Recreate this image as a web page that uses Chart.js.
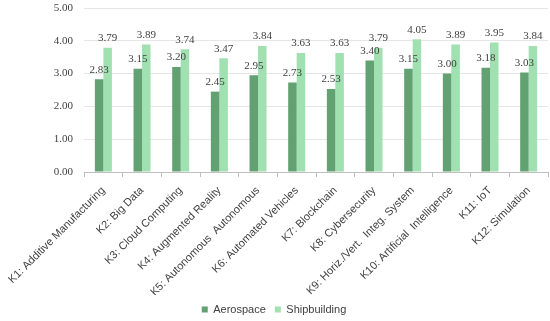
<!DOCTYPE html>
<html>
<head>
<meta charset="utf-8">
<script src="https://cdn.jsdelivr.net/npm/chart.js@4"></script>
<style>
html,body{margin:0;padding:0;background:#fff;}
#wrap{width:550px;height:321px;position:relative;}
</style>
</head>
<body>
<div id="wrap"><canvas id="c" width="550" height="321"></canvas></div>
<script>
const categories = ["K1: Additive Manufacturing","K2: Big Data","K3: Cloud Computing","K4: Augmented Reality","K5: Autonomous  Autonomous","K6: Automated Vehicles","K7: Blockchain","K8: Cybersecurity","K9: Horiz./Vert.  Integ. System","K10: Artificial  Intelligence","K11: IoT","K12: Simulation"];
const aerospace = [2.83,3.15,3.20,2.45,2.95,2.73,2.53,3.40,3.15,3.00,3.18,3.03];
const shipbuilding = [3.79,3.89,3.74,3.47,3.84,3.63,3.63,3.79,4.05,3.89,3.95,3.84];
const seriesNames = ["Aerospace","Shipbuilding"];
const yTicks = [0,1,2,3,4,5];

const labelPlugin = {
  id:'barLabels',
  afterDatasetsDraw(chart){
    const ctx = chart.ctx;
    ctx.save();
    ctx.font = '11px "Liberation Serif", "Times New Roman", serif';
    ctx.fillStyle = '#404040';
    ctx.textAlign = 'center';
    ctx.textBaseline = 'bottom';
    chart.data.datasets.forEach((ds,i)=>{
      const meta = chart.getDatasetMeta(i);
      meta.data.forEach((bar,j)=>{
        ctx.fillText(ds.data[j].toFixed(2), bar.x, bar.y - 4);
      });
    });
    ctx.restore();
  }
};

new Chart(document.getElementById('c'),{
  type:'bar',
  data:{
    labels:categories,
    datasets:[
      {label:seriesNames[0],data:aerospace,backgroundColor:'#62a172',barPercentage:1.0,categoryPercentage:0.44},
      {label:seriesNames[1],data:shipbuilding,backgroundColor:'#a0e0b1',barPercentage:1.0,categoryPercentage:0.44}
    ]
  },
  options:{
    responsive:false,
    animation:false,
    devicePixelRatio:1,
    layout:{padding:{left:0,right:2,top:0,bottom:-4}},
    plugins:{
      legend:{
        position:'bottom',
        labels:{boxWidth:6,boxHeight:6,padding:9,color:'#404040',font:{family:'"Liberation Sans", Arial, sans-serif',size:11}}
      },
      tooltip:{enabled:false}
    },
    scales:{
      x:{
        afterFit(axis){axis.height = 123;},
        grid:{display:true,drawOnChartArea:false,offset:true,color:'#bfbfbf',tickLength:5},
        border:{display:true,color:'#bfbfbf'},
        ticks:{minRotation:45,maxRotation:45,autoSkip:false,color:'#404040',padding:7,font:{family:'"Liberation Sans", Arial, sans-serif',size:11}}
      },
      y:{
        min:0,max:5,
        afterBuildTicks(axis){axis.ticks = yTicks.map(v=>({value:v}));},
        afterFit(axis){axis.width = 82; axis.paddingTop = 8; axis.paddingBottom = 0;},
        grid:{color:'#e6e6e6',drawTicks:false},
        border:{display:false},
        ticks:{padding:11,color:'#404040',font:{family:'"Liberation Serif", "Times New Roman", serif',size:11},callback:v=>v.toFixed(2)}
      }
    }
  },
  plugins:[labelPlugin]
});
</script>
</body>
</html>
